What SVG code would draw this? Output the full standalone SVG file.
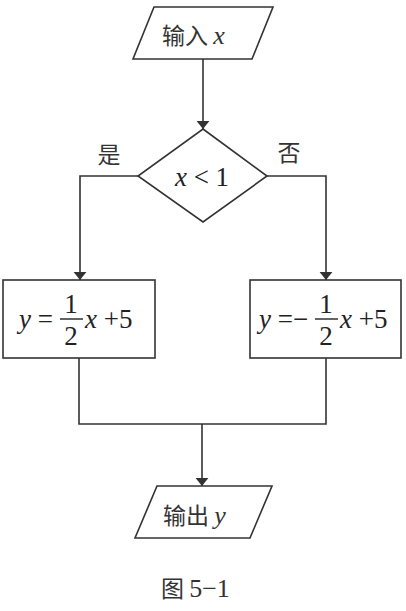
<svg xmlns="http://www.w3.org/2000/svg" width="406" height="611" viewBox="0 0 406 611">
<defs>
<style>
.shape{fill:#fff;stroke:#333;stroke-width:1.6}
.line{fill:none;stroke:#333;stroke-width:1.6}
.cjk{font-family:"Noto Sans CJK SC",sans-serif;fill:#333;font-size:23px}
.m{font-family:"Liberation Serif","Times New Roman",serif;fill:#222;font-size:27px}
.i{font-style:italic}
</style>
<marker id="arr" viewBox="0 0 10 20" refX="10" refY="10" markerWidth="8" markerHeight="16" markerUnits="userSpaceOnUse" orient="auto">
<path d="M0,2 L10,10 L0,18 Z" fill="#333"/>
</marker>
</defs>
<rect width="406" height="611" fill="#fff"/>
<g id="connectors">
<line class="line" x1="203" y1="59" x2="203" y2="129" marker-end="url(#arr)"/>
<polyline class="line" points="138,176 80,176 80,280" marker-end="url(#arr)"/>
<polyline class="line" points="267,176 326,176 326,280" marker-end="url(#arr)"/>
<polyline class="line" points="79,358 79,424 326,424 326,358"/>
<line class="line" x1="202" y1="424" x2="202" y2="486" marker-end="url(#arr)"/>
<text class="cjk" x="109" y="163" text-anchor="middle" font-size="21">是</text>
<text class="cjk" x="289" y="161" text-anchor="middle" font-size="21">否</text>
</g>
<g id="input">
<polygon class="shape" points="154,7 273,7 252,59 133,59"/>
<text class="cjk" x="162" y="44">输入 <tspan font-family="Liberation Serif, serif" font-style="italic" font-size="26">x</tspan></text>
</g>
<g id="decision">
<polygon class="shape" points="203,129 267,176 203,222 138,176"/>
<text font-family="Liberation Serif, serif" font-size="27" fill="#222" x="202" y="186" text-anchor="middle"><tspan font-style="italic">x</tspan> &lt; 1</text>
</g>
<g id="yes-box" font-family="Liberation Serif, serif" font-size="27" fill="#222">
<rect class="shape" x="3" y="280" width="152" height="78"/>
<text x="19" y="328"><tspan font-style="italic">y</tspan> =</text>
<text x="71" y="313" text-anchor="middle">1</text>
<line x1="60" y1="319" x2="83" y2="319" stroke="#222" stroke-width="1.4"/>
<text x="71" y="345" text-anchor="middle">2</text>
<text x="85" y="328"><tspan font-style="italic">x</tspan> +5</text>
</g>
<g id="no-box" font-family="Liberation Serif, serif" font-size="27" fill="#222">
<rect class="shape" x="250" y="280" width="151" height="78"/>
<text x="259" y="328"><tspan font-style="italic">y</tspan> =−</text>
<text x="326" y="313" text-anchor="middle">1</text>
<line x1="315" y1="319" x2="338" y2="319" stroke="#222" stroke-width="1.4"/>
<text x="326" y="345" text-anchor="middle">2</text>
<text x="340" y="328"><tspan font-style="italic">x</tspan> +5</text>
</g>
<g id="output">
<polygon class="shape" points="157,486 272,486 250,538 135,538"/>
<text class="cjk" x="163" y="524">输出 <tspan font-family="Liberation Serif, serif" font-style="italic" font-size="26">y</tspan></text>
</g>
<text class="cjk" x="161" y="597" font-size="21">图 <tspan font-family="Liberation Serif, serif" font-size="26">5−1</tspan></text>
</svg>
